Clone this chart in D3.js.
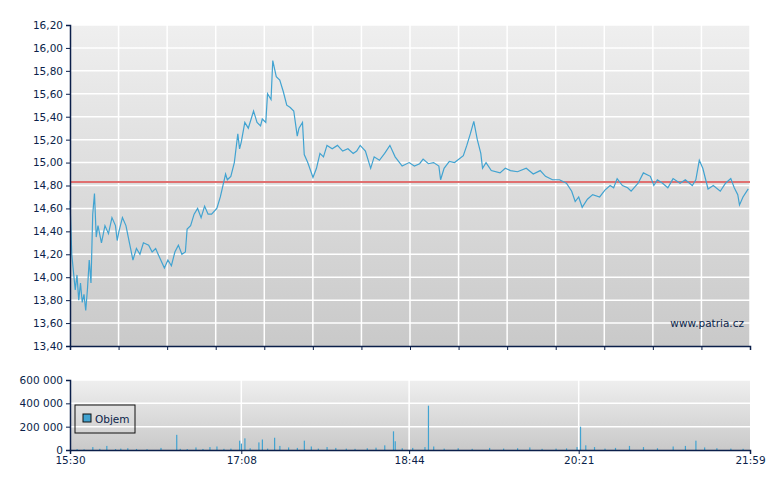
<!DOCTYPE html>
<html><head><meta charset="utf-8">
<script src="https://cdn.jsdelivr.net/npm/d3@7"></script>
<style>body{margin:0;background:#fff}text{font-family:"DejaVu Sans",Verdana,sans-serif;font-size:10.5px;fill:#0b1f4a}</style>
</head><body><svg id="c" width="780" height="490"></svg>
<script>
// minutes after 15:30, price
var priceMin = [0,1,3,4,5,6,7,8,9,10,11,12,13,14,15,16,18,20,22,24,26,27,28,30,32,34,36,38,40,42,45,47,49,51,54,56,58,60,62,64,66,67,69,71,73,75,77,79,81,84,86,89,90,92,94,96,97,98,100,102,105,107,109,110,112,113,115,116,118,120,122,124,126,128,130,131,133,134,136,139,141,143,145,147,150,153,156,159,162,164,166,169,172,174,177,180,183,186,190,194,197,200,202,205,208,211,212,214,217,220,225,227,229,231,233,235,236,238,241,246,249,252,256,261,265,269,272,276,280,284,287,289,291,293,296,299,303,306,309,311,313,316,319,321,325,328,332,334,336,339,342,345,349,352,356,358,360,362,365,368,372,375,378,380,382,383,385,388];
var price = [14.67,14.2,13.89,14.02,13.8,13.95,13.78,13.85,13.71,13.9,14.15,13.95,14.55,14.73,14.35,14.45,14.3,14.45,14.38,14.52,14.45,14.32,14.4,14.52,14.45,14.3,14.15,14.25,14.2,14.3,14.28,14.22,14.25,14.18,14.08,14.15,14.1,14.22,14.28,14.2,14.22,14.42,14.45,14.55,14.6,14.52,14.62,14.55,14.55,14.6,14.7,14.9,14.85,14.88,15.0,15.25,15.12,15.18,15.35,15.3,15.45,15.35,15.32,15.38,15.35,15.6,15.55,15.89,15.75,15.72,15.62,15.5,15.48,15.45,15.23,15.3,15.35,15.07,15.0,14.87,14.95,15.08,15.05,15.15,15.12,15.15,15.1,15.12,15.08,15.1,15.15,15.1,14.95,15.05,15.02,15.08,15.15,15.05,14.97,15.0,14.97,14.99,15.03,14.99,15.0,14.97,14.85,14.95,15.01,15.0,15.06,15.15,15.25,15.36,15.2,15.08,14.95,15.0,14.93,14.91,14.95,14.93,14.92,14.95,14.9,14.93,14.88,14.85,14.85,14.82,14.75,14.66,14.7,14.61,14.68,14.72,14.7,14.76,14.8,14.78,14.86,14.8,14.78,14.75,14.82,14.91,14.88,14.8,14.85,14.82,14.78,14.86,14.82,14.85,14.8,14.85,15.02,14.95,14.77,14.8,14.75,14.82,14.86,14.78,14.72,14.63,14.7,14.77,14.76,14.78];
var refPrice = 14.83;
var volMin = [4,8,13,17,21,26,29,33,38,44,52,61,63,67,72,76,80,84,88,92,97,98,100,103,108,110,113,117,120,125,130,134,138,142,147,152,158,163,170,175,180,185,186,190,196,203,205,208,214,222,230,240,248,256,263,270,278,284,290,292,295,300,306,312,320,328,336,345,352,358,363,370,378,385];
var vol = [8000,6000,25000,10000,35000,8000,12000,15000,9000,7000,18000,130000,10000,8000,22000,9000,25000,30000,10000,12000,80000,55000,100000,15000,65000,90000,12000,105000,35000,22000,18000,80000,30000,12000,25000,18000,12000,10000,15000,20000,40000,160000,75000,15000,18000,25000,380000,30000,12000,15000,10000,18000,12000,15000,22000,10000,12000,14000,25000,200000,40000,25000,12000,18000,35000,25000,15000,30000,35000,80000,22000,15000,12000,10000];
var yTicks = d3.range(13.4, 16.21, 0.2);
var vTicks = [0, 200000, 400000, 600000];
var xLabelMin = [0, 98, 194, 291, 389];
var xLabels = ['15:30', '17:08', '18:44', '20:21', '21:59'];

var svg = d3.select('#c');
var L = 70, R = 750, T = 25, B = 346, VT = 380, VB = 450;
var navy = '#0b1f4a';

var defs = svg.append('defs');
var g1 = defs.append('linearGradient').attr('id', 'bg').attr('x1', 0).attr('y1', 0).attr('x2', 0).attr('y2', 1);
g1.append('stop').attr('offset', 0).attr('stop-color', '#efefef');
g1.append('stop').attr('offset', 1).attr('stop-color', '#c9c9c9');

var x = d3.scaleLinear().domain([0, 389]).range([L, R]);
var y = d3.scaleLinear().domain([13.4, 16.2]).range([B, T]);
var yv = d3.scaleLinear().domain([0, 600000]).range([VB, VT]);
var fmt = function(d) { return d3.format('.2f')(d).replace('.', ','); };
var vfmt = function(d) { return d3.format(',')(d).replace(/,/g, ' '); };

// main panel
svg.append('rect').attr('x', L).attr('y', T).attr('width', R - L).attr('height', B - T).attr('fill', 'url(#bg)');
var gridX = d3.range(0, 15).map(function(i) { return i * 389 / 14; });
svg.append('g').selectAll('line').data(gridX.slice(1)).enter().append('line')
  .attr('x1', x).attr('x2', x).attr('y1', T).attr('y2', B).attr('stroke', '#fff').attr('stroke-width', 1.5);
svg.append('g').selectAll('line').data(yTicks.slice(1)).enter().append('line')
  .attr('x1', L).attr('x2', R).attr('y1', y).attr('y2', y).attr('stroke', '#fff').attr('stroke-width', 1.5);

svg.append('line').attr('x1', L).attr('x2', R).attr('y1', y(refPrice)).attr('y2', y(refPrice))
  .attr('stroke', '#e07070').attr('stroke-width', 2);

var line = d3.line().x(function(d, i) { return x(priceMin[i]); }).y(function(d) { return y(d); });
svg.append('path').datum(price).attr('d', line).attr('fill', 'none').attr('stroke', '#41a3d1').attr('stroke-width', 1.2);

var ya = svg.append('g').attr('transform', 'translate(' + L + ',0)')
  .call(d3.axisLeft(y).tickValues(yTicks).tickFormat(fmt).tickSize(4).tickPadding(3));
var xa = svg.append('g').attr('transform', 'translate(0,' + B + ')')
  .call(d3.axisBottom(x).tickValues(gridX).tickFormat('').tickSize(4));

svg.append('text').attr('x', R - 6).attr('y', B - 19).attr('text-anchor', 'end').text('www.patria.cz');

// volume panel
svg.append('rect').attr('x', L).attr('y', VT).attr('width', R - L).attr('height', VB - VT).attr('fill', 'url(#bg)');
svg.append('g').selectAll('line').data(xLabelMin.slice(1, 4)).enter().append('line')
  .attr('x1', x).attr('x2', x).attr('y1', VT).attr('y2', VB).attr('stroke', '#fff').attr('stroke-width', 1.5);
svg.append('g').selectAll('line').data(vTicks.slice(1)).enter().append('line')
  .attr('x1', L).attr('x2', R).attr('y1', yv).attr('y2', yv).attr('stroke', '#fff').attr('stroke-width', 1.5);
svg.append('g').selectAll('rect').data(vol).enter().append('rect')
  .attr('x', function(d, i) { return x(volMin[i]) - 0.5; }).attr('width', 1.2)
  .attr('y', yv).attr('height', function(d) { return VB - yv(d); }).attr('fill', '#41a3d1');

var va = svg.append('g').attr('transform', 'translate(' + L + ',0)')
  .call(d3.axisLeft(yv).tickValues(vTicks).tickFormat(vfmt).tickSize(4).tickPadding(3));
var xb = svg.append('g').attr('transform', 'translate(0,' + VB + ')')
  .call(d3.axisBottom(x).tickValues(xLabelMin).tickFormat(function(d, i) { return xLabels[i]; }).tickSize(4).tickPadding(3));

[ya, xa, va, xb].forEach(function(a) {
  a.select('.domain').attr('stroke', navy).attr('stroke-width', 1.5);
  a.selectAll('.tick line').attr('stroke', navy);
  a.selectAll('.tick text').style('font-family', '"DejaVu Sans",Verdana,sans-serif').style('font-size', '10.5px').attr('fill', navy);
});

// legend
var lg = svg.append('g').attr('transform', 'translate(75,405)');
lg.append('rect').attr('width', 60).attr('height', 28).attr('fill', 'none').attr('stroke', '#111');
lg.append('rect').attr('x', 8).attr('y', 9).attr('width', 8).attr('height', 8).attr('fill', '#41a3d1').attr('stroke', '#111');
lg.append('text').attr('x', 20).attr('y', 18).text('Objem');
</script></body></html>
